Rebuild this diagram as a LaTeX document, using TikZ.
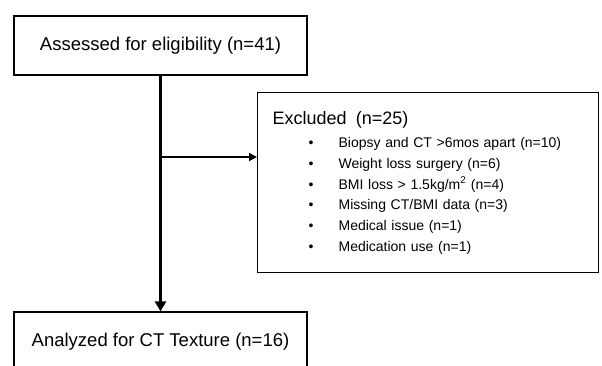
\documentclass[tikz,border=0pt]{standalone}
\usepackage{fontspec}
\setmainfont{Liberation Sans}
\usetikzlibrary{positioning, arrows.meta}

\begin{document}
\begin{tikzpicture}[x=1pt, y=-1pt,
          every node/.style={rectangle, draw, line width=1.2pt, inner sep=0pt}]
          \useasboundingbox (0,0) rectangle (602,366);

          \node[minimum width=293pt, minimum height=59pt, font=\fontsize{18.5}{20}\selectfont] (assessed) at (160.5,45.5) {Assessed for eligibility (n=41)};
          \node[minimum width=293pt, minimum height=59pt, font=\fontsize{18.5}{20}\selectfont] (analyzed) at (160.5,341.5) {Analyzed for CT Texture (n=16)};
          \node[anchor=north west, minimum width=341pt, minimum height=180pt, inner xsep=15pt,
                text width=311pt, align=left, font=\fontsize{14}{20.7}\selectfont] (excluded) at (257,92) {%
            {\fontsize{18}{20}\selectfont Excluded\ \ (n=25)}\\[3pt]
            \hspace*{36pt}\makebox[30pt][l]{\textbullet}Biopsy and CT >6mos apart (n=10)\\
            \hspace*{36pt}\makebox[30pt][l]{\textbullet}Weight loss surgery (n=6)\\
            \hspace*{36pt}\makebox[30pt][l]{\textbullet}BMI loss > 1.5kg/m\textsuperscript{2} (n=4)\\
            \hspace*{36pt}\makebox[30pt][l]{\textbullet}Missing CT/BMI data (n=3)\\
            \hspace*{36pt}\makebox[30pt][l]{\textbullet}Medical issue (n=1)\\
            \hspace*{36pt}\makebox[30pt][l]{\textbullet}Medication use (n=1)};

          \coordinate (branch) at (160.5,157);

          \draw[line width=2.5pt, -{Triangle[length=10pt, width=11pt]}] (assessed) -- (analyzed);
          \draw[line width=1.8pt, -{Triangle[length=8pt, width=8pt]}] (branch) -- (branch -| excluded.west);
        \end{tikzpicture}
\end{document}
